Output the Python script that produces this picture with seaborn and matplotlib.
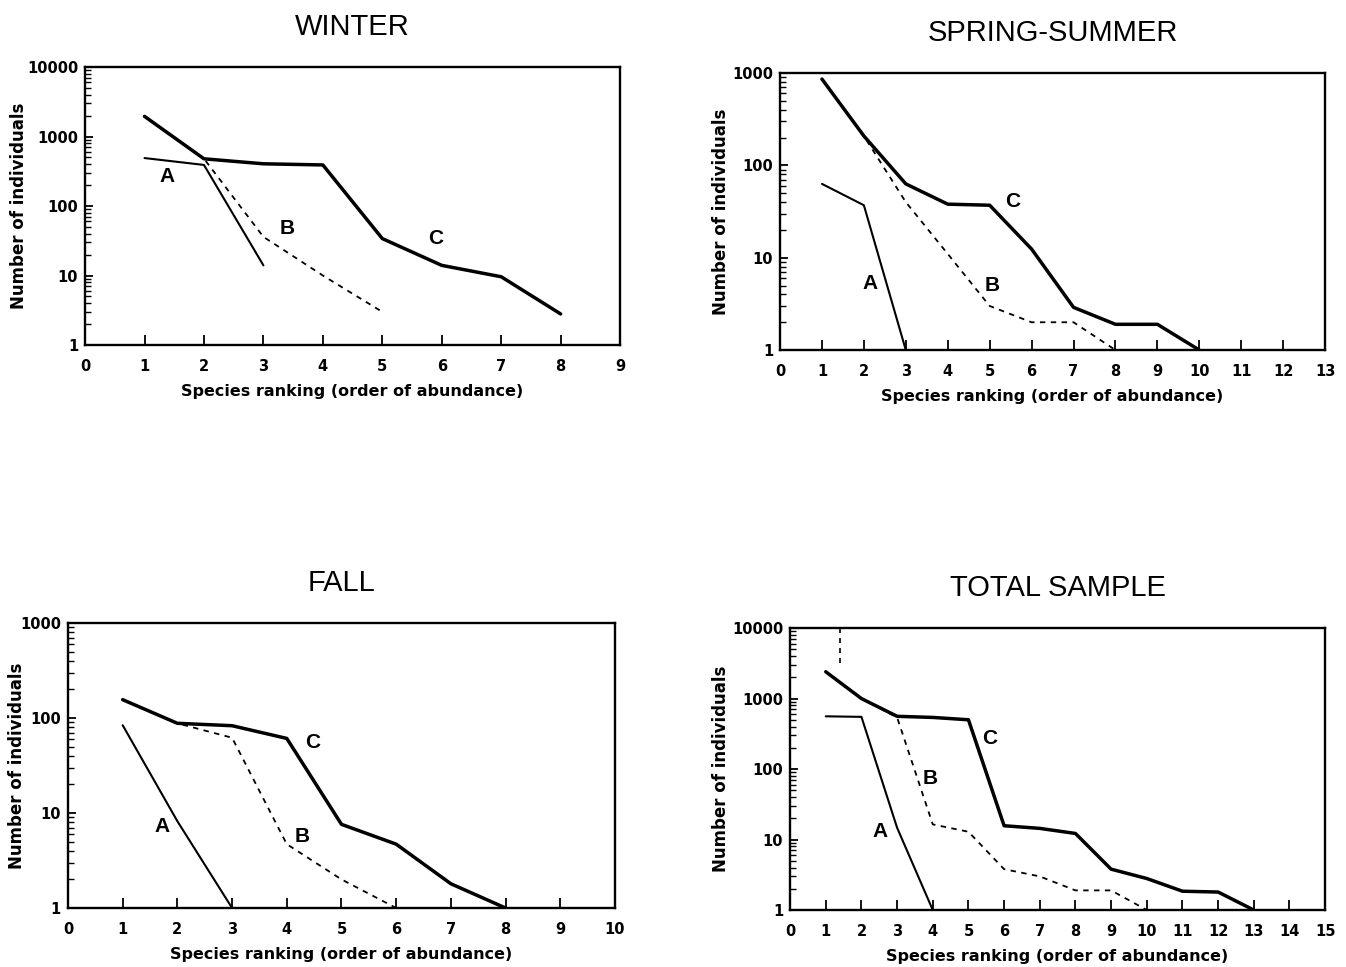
import numpy as np
import pandas as pd
import matplotlib
matplotlib.use("Agg")
import matplotlib.pyplot as plt
import seaborn as sns

# --- data ---
winter_A_x = [1, 2, 3]
winter_A_y = [490, 390, 14]
winter_B_x = [1, 2, 3, 3.5, 4, 5]
winter_B_y = [1950, 480, 36, 19, 10, 3]
winter_C_x = [1, 2, 3, 4, 5, 6, 7, 8]
winter_C_y = [1950, 478, 405, 390, 34, 14, 9.6, 2.8]

spring_A_x = [1, 2, 3]
spring_A_y = [63, 37, 1]
spring_B_x = [1, 2, 3, 4, 5, 6, 7, 8]
spring_B_y = [860, 208, 40, 11, 3, 2, 2, 1]
spring_C_x = [1, 2, 3, 4, 5, 6, 7, 8, 9, 10]
spring_C_y = [860, 208, 63, 38, 37, 12.4, 2.9, 1.9, 1.9, 1]

fall_A_x = [1, 2, 3]
fall_A_y = [84, 8.2, 1]
fall_B_x = [1, 2, 3, 4, 5, 6]
fall_B_y = [156, 88, 62, 4.7, 2, 1]
fall_C_x = [1, 2, 3, 4, 5, 6, 7, 8]
fall_C_y = [156, 88, 83, 61, 7.6, 4.7, 1.8, 1]

total_A_x = [1, 2, 3, 4]
total_A_y = [560, 550, 14.7, 1]
total_B_x = [1, 2, 3, 4, 5, 6, 7, 8, 9, 10]
total_B_y = [2400, 1000, 540, 16.4, 12.9, 3.8, 3.0, 1.9, 1.9, 1]
total_B_stub_x = [1.4, 1.4]
total_B_stub_y = [10000, 2700]
total_C_x = [1, 2, 3, 4, 5, 6, 7, 8, 9, 10, 11, 12, 13]
total_C_y = [2400, 1000, 560, 540, 500, 15.7, 14.4, 12.2, 3.8, 2.8, 1.85, 1.8, 1]

# letter labels (x, y) in data units
winter_lbl = {"A": (1.38, 270), "B": (3.4, 48), "C": (5.9, 34)}
spring_lbl = {"A": (2.15, 5.2), "B": (5.05, 5.0), "C": (5.55, 41)}
fall_lbl = {"A": (1.72, 7.3), "B": (4.28, 5.7), "C": (4.48, 55)}
total_lbl = {"A": (2.52, 13), "B": (3.92, 74), "C": (5.6, 270)}

sns.set_style("ticks")
plt.rcParams['font.family'] = ['Liberation Sans', 'DejaVu Sans']
plt.rcParams.update({"text.color": "black", "axes.edgecolor": "black",
                     "axes.labelcolor": "black", "xtick.color": "black",
                     "ytick.color": "black"})

fig = plt.figure(figsize=(13.46, 9.67), dpi=100)
BOLD = ['DejaVu Sans']


def panel(rect, title, xmax, ymax, A, B, C, lbl, ylab_x, stub=None):
    ax = fig.add_axes(rect)
    sns.lineplot(x=B[0], y=B[1], ax=ax, color="black", lw=1.3,
                 linestyle=(0, (3, 3)), sort=False)
    if stub is not None:
        sns.lineplot(x=stub[0], y=stub[1], ax=ax, color="black", lw=1.2,
                     linestyle=(0, (3, 3)), sort=False, estimator=None)
    sns.lineplot(x=A[0], y=A[1], ax=ax, color="black", lw=1.5, sort=False)
    sns.lineplot(x=C[0], y=C[1], ax=ax, color="black", lw=2.5, sort=False)
    ax.set_yscale("log")
    ax.set_xlim(0, xmax)
    ax.set_ylim(1, ymax)
    ax.set_xticks(range(0, xmax + 1))
    ax.set_xticklabels([str(i) for i in range(0, xmax + 1)])
    yt = [10 ** i for i in range(int(np.log10(ymax)) + 1)]
    ax.set_yticks(yt)
    ax.set_yticklabels([str(v) for v in yt])
    ax.yaxis.set_minor_locator(matplotlib.ticker.LogLocator(subs=np.arange(2, 10)))
    ax.yaxis.set_minor_formatter(matplotlib.ticker.NullFormatter())
    ax.tick_params(axis="x", direction="in", length=7, width=1.3, pad=10)
    ax.tick_params(axis="y", which="major", direction="in", length=6, width=1.3,
                   pad=5)
    ax.tick_params(axis="y", which="minor", direction="in", length=4, width=1)
    for t in ax.get_xticklabels() + ax.get_yticklabels():
        t.set_fontweight("bold")
        t.set_family(BOLD)
        t.set_fontsize(10.5)
    for s in ax.spines.values():
        s.set_visible(True)
        s.set_linewidth(1.7)
    ax.set_xlabel("Species ranking (order of abundance)", fontsize=11.5,
                  fontweight="bold", family=BOLD, labelpad=7)
    ax.set_ylabel("Number of individuals", fontsize=12, fontweight="bold",
                  family=BOLD)
    ax.yaxis.set_label_coords(ylab_x + 8 / (rect[2] * 1346), 0.5)
    ax.set_title(title, fontsize=21, pad=23)
    for k, (lx, ly) in lbl.items():
        ax.text(lx, ly, k, fontsize=15, fontweight="bold", ha="center",
                va="center")
    return ax


panel([0.0632, 0.6432, 0.3975, 0.2875], "WINTER", 9, 10000,
      (winter_A_x, winter_A_y), (winter_B_x, winter_B_y),
      (winter_C_x, winter_C_y), winter_lbl, -0.122)
panel([0.5795, 0.638, 0.405, 0.2865], "SPRING-SUMMER", 13, 1000,
      (spring_A_x, spring_A_y), (spring_B_x, spring_B_y),
      (spring_C_x, spring_C_y), spring_lbl, -0.106)
panel([0.0505, 0.061, 0.4064, 0.2947], "FALL", 10, 1000,
      (fall_A_x, fall_A_y), (fall_B_x, fall_B_y),
      (fall_C_x, fall_C_y), fall_lbl, -0.092)
panel([0.587, 0.0589, 0.3975, 0.2916], "TOTAL SAMPLE", 15, 10000,
      (total_A_x, total_A_y), (total_B_x, total_B_y),
      (total_C_x, total_C_y), total_lbl, -0.127,
      stub=(total_B_stub_x, total_B_stub_y))

fig.savefig("out.png", dpi=100)
